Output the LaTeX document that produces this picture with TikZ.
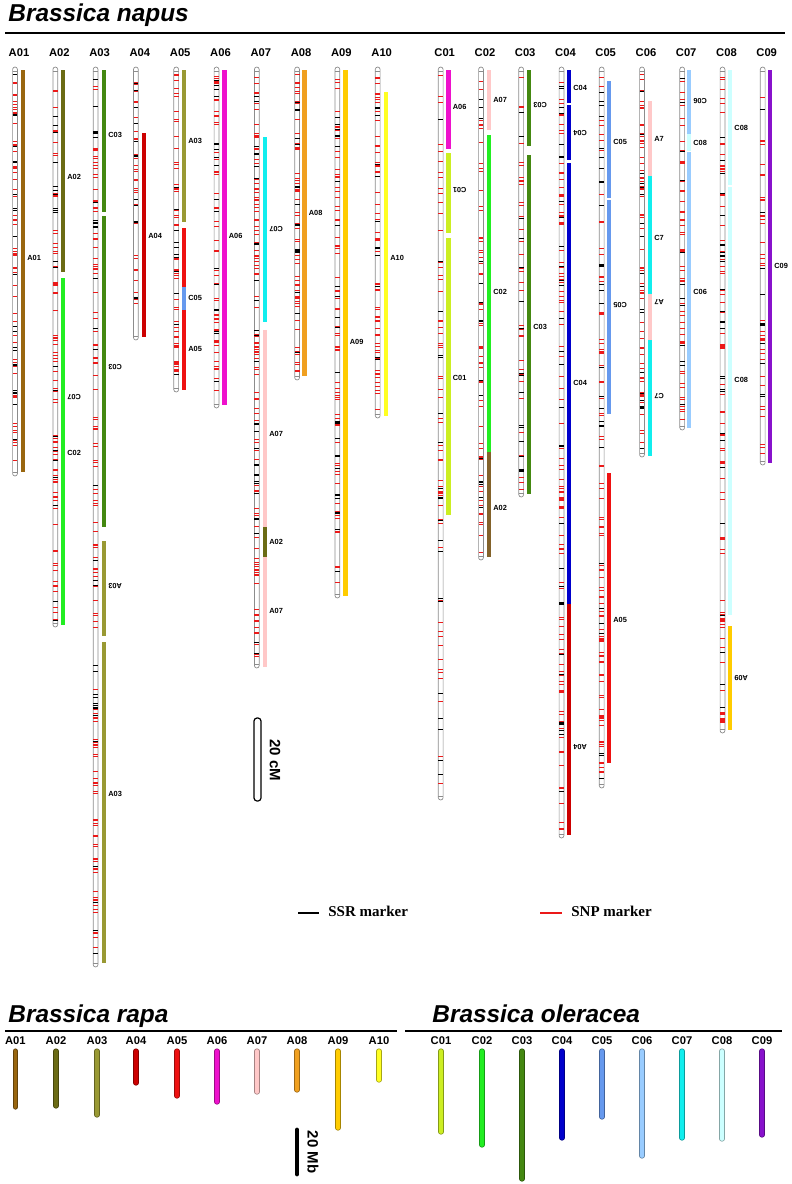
\documentclass[tikz,border=0pt]{standalone}
\usepackage{fontspec}
\setmainfont{Liberation Sans}
\newfontfamily\legfont{Liberation Serif}
\usetikzlibrary{positioning}

% genome colours
\definecolor{colA01}{HTML}{99660F}
\definecolor{colA02}{HTML}{6B6B14}
\definecolor{colA02b}{HTML}{83622A}
\definecolor{colA03}{HTML}{999933}
\definecolor{colA04}{HTML}{CC0000}
\definecolor{colA05}{HTML}{EE1111}
\definecolor{colA06}{HTML}{EE11CC}
\definecolor{colA07}{HTML}{FFC8C8}
\definecolor{colA08}{HTML}{F0A020}
\definecolor{colA09}{HTML}{FFCC00}
\definecolor{colA10}{HTML}{FFFF22}
\definecolor{colC01}{HTML}{CCEE22}
\definecolor{colC02}{HTML}{22EE22}
\definecolor{colC03}{HTML}{448811}
\definecolor{colC04}{HTML}{0000CC}
\definecolor{colC05}{HTML}{6699EE}
\definecolor{colC06}{HTML}{99CCFF}
\definecolor{colC07}{HTML}{11EEEE}
\definecolor{colC08}{HTML}{CCFFFF}
\definecolor{colC09}{HTML}{8811CC}
\definecolor{snp}{RGB}{235,25,25}
\definecolor{ssr}{RGB}{0,0,0}

% linkage group: x, top, bottom, number of markers
\newcommand{\linkgrp}[4]{%
  \draw[chrline, fill=white, rounded corners=1.2pt] (#1-2.4,#2) rectangle (#1+2.4,#3);
  \foreach \k in {1,...,#4}{
    \pgfmathsetmacro\my{#2+6+rnd*(#3-#2-12)}
    \pgfmathtruncatemacro\isred{rnd<0.78}
    \pgfmathtruncatemacro\isthick{rnd<0.1}
    \ifnum\isred=1 \def\mcol{snp}\else\def\mcol{ssr}\fi
    \ifnum\isthick=1 \def\mw{1.1pt}\else\def\mw{0.5pt}\fi
    \draw[draw=\mcol, line width=\mw] (#1-2.4,\my) -- (#1+2.4,\my);
  }
  \draw[chrline] (#1-2.4,#2+4) -- (#1+2.4,#2+4);
  \draw[chrline] (#1-2.4,#3-4) -- (#1+2.4,#3-4);
}
% syntenic segment: x, top, bottom, colour
\newcommand{\seg}[4]{\fill[#4] (#1-2.3,#2) rectangle (#1+2.3,#3);}
% segment labels: name, bar x, y, text (upright / upside down)
\newcommand{\slab}[4]{\node[seglbl] (#1) at (#2+4,#3) {#4};}
\newcommand{\slabr}[4]{\node[seglbl, rotate=180, anchor=east] (#1) at (#2+4,#3) {#4};}

\begin{document}
\begin{tikzpicture}[x=0.5pt, y=-0.5pt,
  chrline/.style={draw=black!45, line width=0.35pt},
  seglbl/.style={anchor=west, inner sep=0pt, font=\bfseries\fontsize{3.7}{4}\selectfont},
  chrlbl/.style={anchor=base, inner sep=0pt, font=\bfseries\fontsize{5.6}{6}\selectfont},
  ttl/.style={anchor=base west, inner sep=0pt, font=\bfseries\itshape\fontsize{12.2}{14}\selectfont},
  rule/.style={line width=1.1pt},
  scl/.style={inner sep=0pt, rotate=-90, font=\bfseries\fontsize{7.5}{9}\selectfont},
  legtxt/.style={anchor=base west, inner sep=0pt, font=\legfont\bfseries\fontsize{7.5}{9}\selectfont}]
\useasboundingbox (0,0) rectangle (792,1184);
\pgfmathsetseed{4711}
% Brassica napus
\node[ttl] (tnapus) at (8,21) {Brassica napus};
\draw[rule] (5,33) -- (785,33);
\foreach \nm/\xx in {A01/15,A02/55.3,A03/95.6,A04/135.9,A05/176.2,A06/216.5,A07/256.8,A08/297.1,A09/337.4,A10/377.7,
  C01/440.7,C02/481,C03/521.2,C04/561.5,C05/601.7,C06/642,C07/682.2,C08/722.5,C09/762.7}
  \node[chrlbl] (n\nm) at (\xx+4,56.5) {\nm};
\foreach \xx/\tp/\bt/\nmk in {15/67/476/75, 55.3/67/627/95, 95.6/67/967/150, 135.9/67/340/40,
  176.2/67/392/60, 216.5/67/408/65, 256.8/67/668/130, 297.1/67/380/65, 337.4/67/598/85,
  377.7/67/418/70, 440.7/67/800/75, 481/67/560/70, 521.2/67/497/55, 561.5/67/838/120,
  601.7/67/788/110, 642/67/457/75, 682.2/67/430/60, 722.5/67/733/95, 762.7/67/465/45}
  \linkgrp{\xx}{\tp}{\bt}{\nmk};
% A subgenome
\seg{23}{70}{472}{colA01} \slab{sA01a}{23}{258}{A01}
\seg{63}{70}{272}{colA02} \slab{sA02a}{63}{177}{A02}
\seg{63}{278}{625}{colC02} \slabr{sA02b}{63}{397}{C07} \slab{sA02c}{63}{453}{C02}
\seg{104}{70}{212}{colC03} \slab{sA03a}{104}{135}{C03}
\seg{104}{216}{527}{colC03} \slabr{sA03b}{104}{367}{C03}
\seg{104}{541}{636}{colA03} \slabr{sA03c}{104}{586}{A03}
\seg{104}{642}{963}{colA03} \slab{sA03d}{104}{794}{A03}
\seg{144}{133}{337}{colA04} \slab{sA04a}{144}{236}{A04}
\seg{184}{70}{222}{colA03} \slab{sA05a}{184}{141}{A03}
\seg{184}{228}{287}{colA05}
\seg{184}{287}{310}{colC05} \slab{sA05b}{184}{298}{C05}
\seg{184}{310}{390}{colA05} \slab{sA05c}{184}{349}{A05}
\seg{224.5}{70}{405}{colA06} \slab{sA06a}{224.5}{236}{A06}
\seg{265}{137}{322}{colC07} \slabr{sA07a}{265}{229}{C07}
\seg{265}{330}{527}{colA07} \slab{sA07b}{265}{434}{A07}
\seg{265}{527}{557}{colA02} \slab{sA07c}{265}{542}{A02}
\seg{265}{557}{667}{colA07} \slab{sA07d}{265}{611}{A07}
\seg{304.5}{70}{376}{colA08} \slab{sA08a}{304.5}{213}{A08}
\seg{345.5}{70}{596}{colA09} \slab{sA09a}{345.5}{342}{A09}
\seg{386}{92}{416}{colA10} \slab{sA10a}{386}{258}{A10}
% C subgenome
\seg{448.5}{70}{149}{colA06} \slab{sC01a}{448.5}{107}{A06}
\seg{448.5}{153}{233}{colC01} \slabr{sC01b}{448.5}{190}{C01}
\seg{448.5}{238}{515}{colC01} \slab{sC01c}{448.5}{378}{C01}
\seg{489}{70}{130}{colA07} \slab{sC02a}{489}{100}{A07}
\seg{489}{135}{452}{colC02} \slab{sC02b}{489}{292}{C02}
\seg{489}{452}{557}{colA02b} \slab{sC02c}{489}{508}{A02}
\seg{529}{70}{146}{colC03} \slabr{sC03a}{529}{105}{C03}
\seg{529}{155}{494}{colC03} \slab{sC03b}{529}{327}{C03}
\seg{569}{70}{103}{colC04} \slab{sC04a}{569}{88}{C04}
\seg{569}{105}{160}{colC04} \slabr{sC04b}{569}{133}{C04}
\seg{569}{163}{604}{colC04} \slab{sC04c}{569}{383}{C04}
\seg{569}{604}{835}{colA04} \slabr{sC04d}{569}{747}{A04}
\seg{609}{81}{198}{colC05} \slab{sC05a}{609}{142}{C05}
\seg{609}{200}{414}{colC05} \slabr{sC05b}{609}{305}{C05}
\seg{609}{473}{763}{colA05} \slab{sC05c}{609}{620}{A05}
\seg{650}{101}{176}{colA07} \slab{sC06a}{650}{139}{A7}
\seg{650}{176}{294}{colC07} \slab{sC06b}{650}{238}{C7}
\seg{650}{294}{340}{colA07} \slabr{sC06c}{650}{302}{A7}
\seg{650}{340}{456}{colC07} \slabr{sC06d}{650}{396}{C7}
\seg{689}{70}{134}{colC06} \slabr{sC07a}{689}{101}{C06}
\seg{689}{134}{151}{colC08} \slab{sC07b}{689}{143}{C08}
\seg{689}{152}{428}{colC06} \slab{sC07c}{689}{292}{C06}
\seg{730}{70}{185}{colC08} \slab{sC08a}{730}{128}{C08}
\seg{730}{187}{615}{colC08} \slab{sC08b}{730}{380}{C08}
\seg{730}{626}{730}{colA09} \slabr{sC08c}{730}{678}{A09}
\seg{770}{70}{463}{colC09} \slab{sC09a}{770}{266}{C09}
% scale bar and legend
\draw[line width=0.6pt, rounded corners=1.5pt] (254,718) rectangle (261,801);
\node[scl] (cmbar) at (275,760) {20 cM};
\coordinate (ssrA) at (298,913); \coordinate (ssrB) at (319,913);
\draw[ssr, line width=1.2pt] (ssrA) -- (ssrB);
\node[legtxt, right=4.5pt of ssrB, anchor=base west, yshift=-1.6pt] (ssrtxt) {SSR marker};
\coordinate (snpA) at (540,913); \coordinate (snpB) at (562,913);
\draw[snp, line width=1.2pt] (snpA) -- (snpB);
\node[legtxt, right=4.5pt of snpB, anchor=base west, yshift=-1.6pt] (snptxt) {SNP marker};
% Brassica rapa and Brassica oleracea
\node[ttl] (trapa) at (8,1022) {Brassica rapa};
\draw[rule] (5,1031) -- (397,1031);
\node[ttl] (toler) at (432,1022) {Brassica oleracea};
\draw[rule] (405,1031) -- (782,1031);
\foreach \nm/\xx/\bt in {A01/15.3/1107,A02/56/1106,A03/97/1115,A04/136/1083,A05/177/1096,
  A06/217/1102,A07/257/1092,A08/297/1090,A09/338/1128,A10/379/1080,
  C01/441/1132,C02/482/1145,C03/522/1179,C04/562/1138,C05/602/1117,
  C06/642/1156,C07/682/1138,C08/722/1139,C09/762/1135}{
  \node[chrlbl] (g\nm) at (\xx,1044) {\nm};
  \draw[line width=2.6pt, line cap=round, draw=col\nm!65!black] (\xx,1051) -- (\xx,\bt);
  \draw[line width=1.8pt, line cap=round, draw=col\nm] (\xx,1051) -- (\xx,\bt);
}
\draw[line width=2.4pt, line cap=round] (297,1130) -- (297,1174);
\node[scl] (mbbar) at (313,1152) {20 Mb};
\end{tikzpicture}
\end{document}
